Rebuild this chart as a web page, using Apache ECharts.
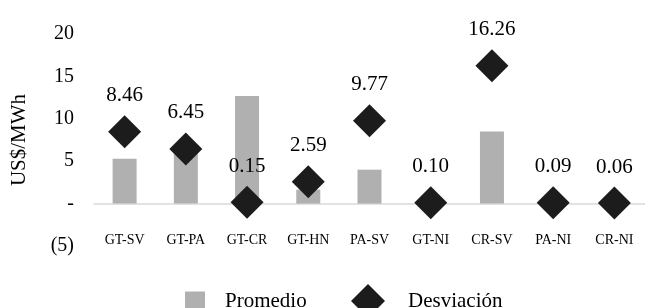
<!DOCTYPE html>
<html>
<head>
<meta charset="utf-8">
<script src="https://cdn.jsdelivr.net/npm/echarts@6/dist/echarts.min.js"></script>
<style>
html,body{margin:0;padding:0;background:#fff;}
#chart{width:645px;height:308px;}
</style>
</head>
<body>
<div id="chart"></div>
<script>
var categories = ['GT-SV','GT-PA','GT-CR','GT-HN','PA-SV','GT-NI','CR-SV','PA-NI','CR-NI'];
var promedio = [5.3, 5.9, 12.7, 1.65, 4.0, 0, 8.5, 0, 0];
var desviacion = [8.46, 6.45, 0.15, 2.59, 9.77, 0.10, 16.26, 0.09, 0.06];
var yTicks = {min: -5, max: 20, interval: 5};

var FONT = "'Liberation Serif', 'Times New Roman', serif";
var chart = echarts.init(document.getElementById('chart'), null, {renderer: 'canvas'});
chart.setOption({
  animation: false,
  backgroundColor: '#ffffff',
  grid: {left: 94, top: 34, width: 553, height: 212, containLabel: false},
  legend: [
    {
      data: [{name: 'Promedio', icon: 'rect'}],
      left: 180, top: 286, itemWidth: 20, itemHeight: 20,
      textStyle: {fontFamily: FONT, fontSize: 21, color: '#000', padding: [0,0,0,15]}
    },
    {
      data: [{name: 'Desviación', icon: 'diamond'}],
      left: 346, top: 279, itemWidth: 34, itemHeight: 34,
      textStyle: {fontFamily: FONT, fontSize: 21, color: '#000', padding: [0,0,0,18]}
    }
  ],
  xAxis: {
    type: 'category',
    data: categories,
    axisLine: {onZero: true, lineStyle: {color: '#d9d9d9', width: 1.5}},
    axisTick: {show: false},
    axisLabel: {fontFamily: FONT, fontSize: 14, color: '#000', margin: -13, interval: 0}
  },
  yAxis: {
    type: 'value',
    min: yTicks.min, max: yTicks.max, interval: yTicks.interval,
    name: 'US$/MWh',
    nameLocation: 'middle',
    nameGap: 64,
    nameRotate: 90,
    nameTextStyle: {fontFamily: FONT, fontSize: 21, color: '#000'},
    splitLine: {show: false},
    axisLine: {show: false},
    axisTick: {show: false},
    axisLabel: {
      fontFamily: FONT, fontSize: 20, color: '#000', margin: 20,
      formatter: function (v) {
        if (v === 0) return '-';
        if (v < 0) return '(' + Math.abs(v) + ')';
        return String(v);
      }
    }
  },
  series: [
    {
      name: 'Promedio',
      type: 'bar',
      data: promedio,
      barWidth: 24,
      itemStyle: {color: '#b0b0b0'},
      z: 1
    },
    {
      name: 'Desviación',
      type: 'scatter',
      data: desviacion,
      symbol: 'diamond',
      symbolSize: 33,
      itemStyle: {color: '#1c1c1c', opacity: 1},
      z: 3,
      label: {
        show: true, position: 'top', distance: 9,
        fontFamily: FONT, fontSize: 21, color: '#000',
        formatter: function (p) { return p.value.toFixed(2); }
      }
    }
  ]
});
</script>
</body>
</html>
